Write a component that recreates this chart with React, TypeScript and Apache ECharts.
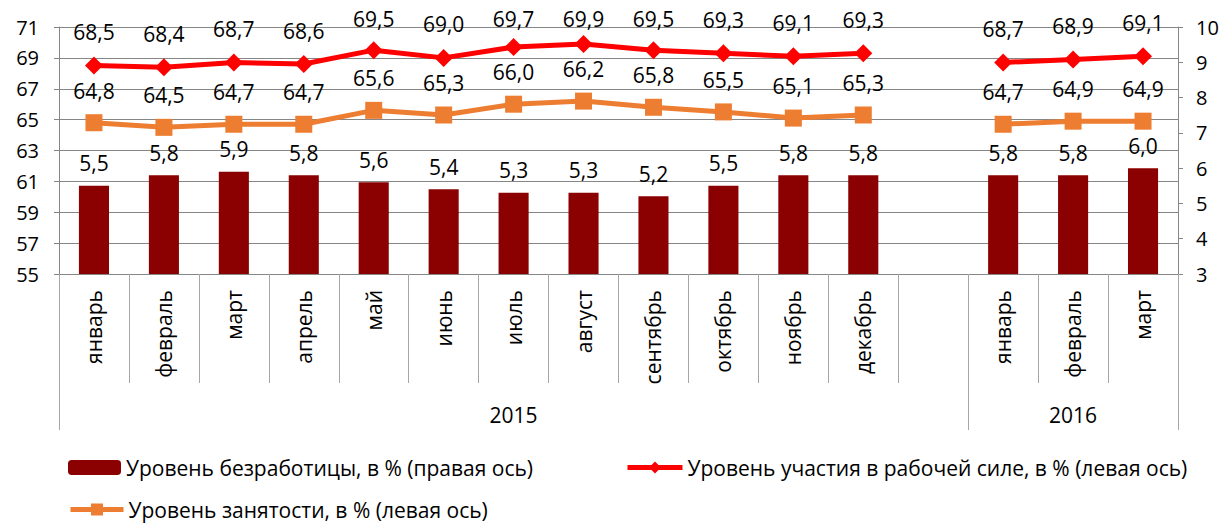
import React, { useEffect, useRef } from "react";
import * as echarts from "echarts";

const months = ["январь", "февраль", "март", "апрель", "май", "июнь", "июль", "август", "сентябрь", "октябрь", "ноябрь", "декабрь", "", "январь", "февраль", "март"];
const years = ["", "", "", "", "", "", "2015", "", "", "", "", "", "", "", "2016", ""];
const yearStarts = [0, 13];
const unemployment = [5.5, 5.8, 5.9, 5.8, 5.6, 5.4, 5.3, 5.3, 5.2, 5.5, 5.8, 5.8, null, 5.8, 5.8, 6.0];
const participation = [68.5, 68.4, 68.7, 68.6, 69.5, 69.0, 69.7, 69.9, 69.5, 69.3, 69.1, 69.3, null, 68.7, 68.9, 69.1];
const employment = [64.8, 64.5, 64.7, 64.7, 65.6, 65.3, 66.0, 66.2, 65.8, 65.5, 65.1, 65.3, null, 64.7, 64.9, 64.9];
const names = [
  "Уровень безработицы, в % (правая ось)",
  "Уровень участия в рабочей силе, в % (левая ось)",
  "Уровень занятости, в % (левая ось)",
];

const FONT = "'Open Sans', sans-serif";
const fmt = (p: any) => (p.value == null ? "" : Number(p.value).toFixed(1).replace(".", ","));
// keep labels inside the chart area (as the spreadsheet does)
const clampTop = (params: any) => {
  const r = params.labelRect;
  if (r && r.y < 8) return { dy: 8 - r.y };
  return {};
};

export default function App() {
  const ref = useRef<HTMLDivElement>(null);
  useEffect(() => {
    if (!ref.current) return;
    const chart = echarts.init(ref.current, undefined, { renderer: "svg" });
    const labelStyle = { show: true, position: "top", color: "#000", fontSize: 21, fontFamily: FONT, formatter: fmt };
    const legendText = { fontSize: 21, color: "#000", fontFamily: FONT };
    chart.setOption({
      animation: false,
      textStyle: { fontFamily: FONT },
      grid: { left: 59, right: 49, top: 27, bottom: 250, containLabel: false },
      legend: [
        { data: [names[0]], left: 68, top: 457, padding: 0, itemWidth: 53, itemHeight: 15, itemGap: 5, textStyle: legendText, selectedMode: false },
        { data: [names[1]], left: 625, top: 457, padding: 0, itemWidth: 55, itemHeight: 15, lineStyle: { width: 5 }, textStyle: legendText, selectedMode: false },
        { data: [names[2]], left: 68, top: 499, padding: 0, itemWidth: 53, itemHeight: 15, lineStyle: { width: 5 }, textStyle: legendText, selectedMode: false },
      ],
      xAxis: [
        {
          type: "category",
          data: months,
          position: "bottom",
          axisLine: { show: true, lineStyle: { color: "#868686", width: 1 } },
          axisTick: { show: true, length: 109, lineStyle: { color: "#a6a6a6" } },
          axisLabel: { interval: 0, rotate: 90, margin: 16, fontSize: 21, color: "#000", fontFamily: FONT },
        },
        {
          type: "category",
          data: years,
          position: "bottom",
          axisLine: { show: false },
          axisTick: { show: true, length: 156, interval: (i: number) => yearStarts.includes(i), lineStyle: { color: "#a6a6a6" } },
          axisLabel: { interval: 0, margin: 130, fontSize: 21, color: "#000", fontFamily: FONT },
        },
      ],
      yAxis: [
        {
          type: "value",
          min: 55,
          max: 71,
          interval: 2,
          position: "left",
          axisLine: { show: true, lineStyle: { color: "#868686" } },
          axisTick: { show: true, length: 5, lineStyle: { color: "#868686" } },
          axisLabel: { margin: 20, fontSize: 20, color: "#000", fontFamily: FONT },
          splitLine: { show: true, lineStyle: { color: "#868686", width: 1 } },
        },
        {
          type: "value",
          min: 3,
          max: 10,
          interval: 1,
          position: "right",
          axisLine: { show: true, lineStyle: { color: "#868686" } },
          axisTick: { show: true, length: 5, lineStyle: { color: "#868686" } },
          axisLabel: { margin: 18, fontSize: 20, color: "#000", fontFamily: FONT },
          splitLine: { show: false },
        },
      ],
      series: [
        {
          name: names[0],
          type: "bar",
          xAxisIndex: 0,
          yAxisIndex: 1,
          data: unemployment,
          barWidth: "43%",
          itemStyle: { color: "#8B0000" },
          label: { ...labelStyle, distance: 12 },
        },
        {
          name: names[1],
          type: "line",
          xAxisIndex: 0,
          yAxisIndex: 0,
          data: participation,
          connectNulls: false,
          symbol: "diamond",
          symbolSize: 18,
          lineStyle: { color: "#FF0000", width: 5 },
          itemStyle: { color: "#FF0000" },
          label: { ...labelStyle, distance: 14 },
          labelLayout: clampTop,
          z: 3,
        },
        {
          name: names[2],
          type: "line",
          xAxisIndex: 0,
          yAxisIndex: 0,
          data: employment,
          connectNulls: false,
          symbol: "rect",
          symbolSize: 17,
          lineStyle: { color: "#ED7D31", width: 5 },
          itemStyle: { color: "#ED7D31" },
          label: { ...labelStyle, distance: 13 },
          z: 3,
        },
      ],
    });
    return () => chart.dispose();
  }, []);
  return <div ref={ref} style={{ width: 1227, height: 524, position: "absolute", left: 0, top: 0 }} />;
}
